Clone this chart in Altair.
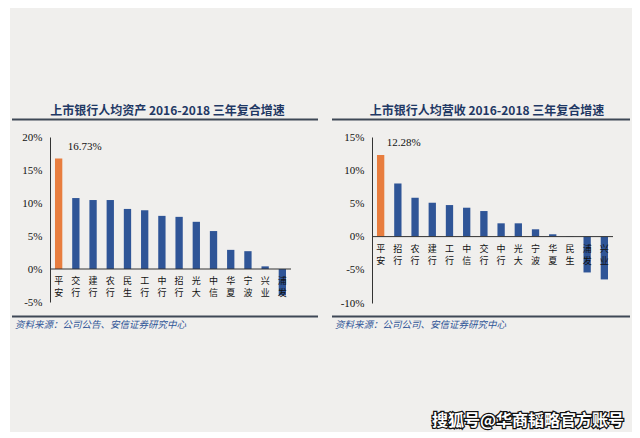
import altair as alt
import pandas as pd

# ---- data ----
left_banks = ["平安", "交行", "建行", "农行", "民生", "工行", "中行", "招行", "光大", "中信", "华夏", "宁波", "兴业", "浦发"]
left_values = [16.73, 10.75, 10.45, 10.45, 9.10, 8.90, 8.05, 7.90, 7.15, 5.75, 2.90, 2.70, 0.40, -4.00]
left_ticks = [-5, 0, 5, 10, 15, 20]
left_title = "上市银行人均资产 2016-2018 三年复合增速"
left_source = "资料来源：公司公告、安信证券研究中心"

right_banks = ["平安", "招行", "农行", "建行", "工行", "中信", "交行", "中行", "光大", "宁波", "华夏", "民生", "浦发", "兴业"]
right_values = [12.28, 8.00, 5.85, 5.10, 4.75, 4.35, 3.85, 2.00, 2.00, 1.10, 0.35, -0.05, -5.40, -6.45]
right_ticks = [-10, -5, 0, 5, 10, 15]
right_title = "上市银行人均营收 2016-2018 三年复合增速"
right_source = "资料来源：公司公司、安信证券研究中心"

highlight = "平安"
watermark = "搜狐号@华商韬略官方账号"

BLUE = "#2F5597"
ORANGE = "#E87D3E"
BEIGE = "#F0EFED"
NAVY = "#1F3864"
LINE = "#3E4856"
CJK = "Noto Sans CJK SC"
SERIF = "Liberation Serif"
W = 241


def one(text):
    return alt.Chart(pd.DataFrame({"t": [text]}))


def panel(banks, values, ticks, height, title, source, title_x, label_dx, src_x,
          line_x, with_bg=False, with_mark=False):
    df = pd.DataFrame({
        "bank": banks,
        "val": values,
        "c1": [b[0] for b in banks],
        "c2": [b[1] for b in banks],
    })
    base = alt.Chart(df)
    x = alt.X("bank:N", sort=banks, axis=None,
              scale=alt.Scale(paddingInner=0.575, paddingOuter=0.29))
    y = alt.Y("val:Q",
              scale=alt.Scale(domain=[ticks[0], ticks[-1]], nice=False, zero=False),
              axis=alt.Axis(values=ticks, tickCount=len(ticks) + 2,
                            labelExpr="datum.value + '%'", title=None,
                            grid=False, ticks=False, tickSize=0, domainColor="#333333",
                            domainWidth=1, labelFont=SERIF, labelFontSize=11,
                            labelColor="#111111", labelPadding=8, labelOverlap=False,
                            zindex=1))

    layers = []
    if with_bg:
        layers.append(one("bg").mark_rect(color=BEIGE).encode(
            x=alt.value(-40), x2=alt.value(582), y=alt.value(-129), y2=alt.value(295)))

    bars = base.mark_bar().encode(
        x=x, y=y, y2=alt.datum(0),
        color=alt.condition(alt.datum.bank == highlight, alt.value(ORANGE), alt.value(BLUE)),
    )
    zero = one("z").mark_rule(color="#333333", strokeWidth=1).encode(
        y=alt.datum(0), x=alt.value(0), x2=alt.value(W))
    lab1 = base.mark_text(baseline="middle", dy=12, font=CJK, fontSize=9,
                          color="#111111").encode(x=x, y=alt.datum(0), text="c1:N")
    lab2 = base.mark_text(baseline="middle", dy=24, font=CJK, fontSize=9,
                          color="#111111").encode(x=x, y=alt.datum(0), text="c2:N")
    val_label = base.transform_filter(alt.datum.bank == highlight).transform_calculate(
        txt="format(datum.val, '.2f') + '%'"
    ).mark_text(align="left", baseline="middle", dx=label_dx, dy=-12, font=SERIF,
                fontSize=11, color="#111111").encode(x=x, y=y, text="txt:N")

    title_t = one(title).mark_text(font=CJK, fontSize=12, fontWeight="bold", color=NAVY,
                                   align="center", baseline="middle").encode(
        x=alt.value(title_x), y=alt.value(-26.5), text="t:N")
    title_line = one("l1").mark_rule(color=LINE, strokeWidth=2).encode(
        x=alt.value(line_x[0]), x2=alt.value(line_x[1]), y=alt.value(-17.5))
    bottom_line = one("l2").mark_rule(color=LINE, strokeWidth=2).encode(
        x=alt.value(line_x[0]), x2=alt.value(line_x[1]), y=alt.value(179.5))
    src = one(source).mark_text(font=CJK, fontSize=9.5, fontStyle="italic", color=BLUE,
                                align="left", baseline="middle").encode(
        x=alt.value(src_x), y=alt.value(188), text="t:N")

    layers += [bars, zero, lab1, lab2, val_label, title_t, title_line, bottom_line, src]

    if with_mark:
        layers.append(one(watermark).mark_text(font=CJK, fontSize=16, fontWeight="bold",
                                               color="#111111", stroke="#111111",
                                               strokeWidth=2.5, align="right",
                                               baseline="middle").encode(
            x=alt.value(252), y=alt.value(284), text="t:N"))
        layers.append(one(watermark).mark_text(font=CJK, fontSize=16, fontWeight="bold",
                                               color="#FFFFFF", align="right",
                                               baseline="middle").encode(
            x=alt.value(252), y=alt.value(284), text="t:N"))

    return alt.layer(*layers).properties(width=W, height=height)


left = panel(left_banks, left_values, left_ticks, 165, left_title, left_source,
             title_x=117.5, label_dx=9, src_x=-35, line_x=(-38, 268), with_bg=True)
right = panel(right_banks, right_values, right_ticks, 166, right_title, right_source,
              title_x=115, label_dx=6, src_x=-37, line_x=(-40, 258), with_mark=True)

chart = alt.hconcat(left, right, spacing=81, bounds="flush").properties(
    padding={"left": 2, "top": 0, "right": 0, "bottom": 0},
    background="white",
).configure_view(stroke=None)

chart.save("out.html", embed_options={"renderer": "svg", "actions": False})
